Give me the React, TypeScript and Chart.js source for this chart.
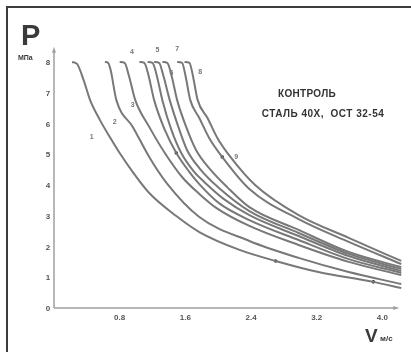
import { useEffect, useRef } from "react";
import { Chart, registerables } from "chart.js";

Chart.register(...registerables);

// axis ticks
const xTickValues = [0.8, 1.6, 2.4, 3.2, 4.0];
const xTickLabels = ["0.8", "1.6", "2.4", "3.2", "4.0"];
const yTickValues = [0, 1, 2, 3, 4, 5, 6, 7, 8];

// curves: velocity V (m/s) and pressure p (MPa)
const c1v = [0.22, 0.28, 0.36, 0.44, 0.56, 0.68, 0.80, 0.96, 1.16, 1.49, 1.77, 2.26, 2.70, 3.22, 3.89, 4.23];
const c1p = [8.0, 7.94, 7.42, 6.76, 6.11, 5.56, 5.04, 4.42, 3.74, 2.99, 2.47, 1.89, 1.53, 1.17, 0.85, 0.65];
const c2v = [0.62, 0.66, 0.69, 0.76, 0.96, 1.16, 1.37, 1.77, 2.38, 2.98, 3.59, 4.23];
const c2p = [8.0, 7.97, 7.74, 6.76, 5.89, 4.91, 4.07, 2.96, 2.18, 1.63, 1.17, 0.78];
const c3v = [0.80, 0.86, 0.91, 0.99, 1.16, 1.35, 1.56, 1.77, 1.98, 2.38, 2.98, 3.59, 4.23];
const c3p = [8.0, 7.97, 7.58, 6.76, 5.89, 5.04, 4.26, 3.71, 3.25, 2.67, 2.05, 1.50, 1.07];
const c4v = [1.04, 1.10, 1.15, 1.22, 1.35, 1.49, 1.65, 1.77, 2.01, 2.38, 2.98, 3.59, 4.23];
const c4p = [8.0, 7.97, 7.58, 6.76, 5.79, 5.04, 4.42, 4.03, 3.41, 2.86, 2.21, 1.59, 1.14];
const c5v = [1.14, 1.20, 1.25, 1.32, 1.43, 1.55, 1.71, 1.83, 2.07, 2.38, 2.98, 3.59, 4.23];
const c5p = [8.0, 7.97, 7.58, 6.76, 5.79, 5.04, 4.42, 4.10, 3.54, 3.02, 2.34, 1.69, 1.20];
const c6v = [1.22, 1.28, 1.33, 1.41, 1.52, 1.62, 1.77, 2.01, 2.38, 2.98, 3.59, 4.23];
const c6p = [8.0, 7.97, 7.58, 6.76, 5.85, 5.14, 4.55, 3.90, 3.15, 2.44, 1.76, 1.27];
const c7v = [1.32, 1.38, 1.43, 1.50, 1.61, 1.73, 1.89, 2.11, 2.38, 2.98, 3.59, 4.23];
const c7p = [8.0, 7.97, 7.58, 6.76, 5.89, 5.14, 4.55, 3.93, 3.28, 2.54, 1.82, 1.33];
const c8v = [1.50, 1.56, 1.60, 1.66, 1.77, 1.89, 2.05, 2.38, 2.98, 3.59, 4.23];
const c8p = [8.0, 7.97, 7.58, 6.76, 6.18, 5.53, 4.91, 3.87, 2.89, 2.15, 1.43];
const c9v = [1.59, 1.65, 1.69, 1.75, 1.87, 1.99, 2.13, 2.45, 2.98, 3.59, 4.23];
const c9p = [8.0, 7.97, 7.58, 6.76, 6.18, 5.53, 4.98, 4.0, 3.02, 2.28, 1.53];

const curveV = [c1v, c2v, c3v, c4v, c5v, c6v, c7v, c8v, c9v];
const curveP = [c1p, c2p, c3p, c4p, c5p, c6p, c7p, c8p, c9p];
const curveNames = ["1", "2", "3", "4", "5", "6", "7", "8", "9"];

// curve number labels (anchored in data units)
const labelV = [0.46, 0.74, 0.96, 0.95, 1.26, 1.43, 1.50, 1.78, 2.22];
const labelP = [5.56, 6.05, 6.60, 8.33, 8.39, 7.64, 8.42, 7.67, 4.91];

// measured points marked on curves
const markV = [1.49, 2.05, 2.70, 3.89];
const markP = [5.04, 4.91, 1.53, 0.85];

const titleLine1 = "КОНТРОЛЬ";
const titleLine2 = "СТАЛЬ 40Х,  ОСТ 32-54";
const yAxisTitle = "Р";
const yAxisUnit = "МПа";
const xAxisTitle = "V";
const xAxisUnit = "м/с";

const decorPlugin = {
  id: "decor",
  afterDraw(chart: any) {
    const ctx = chart.ctx as CanvasRenderingContext2D;
    const xs = chart.scales.x;
    const ys = chart.scales.y;
    const x0 = xs.getPixelForValue(0);
    const y0 = ys.getPixelForValue(0);
    ctx.save();

    // frame of the scanned figure
    ctx.strokeStyle = "#3c3c3c";
    ctx.lineWidth = 2;
    ctx.beginPath();
    ctx.moveTo(7, 352);
    ctx.lineTo(7, 7);
    ctx.lineTo(411, 7);
    ctx.stroke();

    // axes
    ctx.strokeStyle = "#a0a0a0";
    ctx.lineWidth = 1.5;
    const yTop = ys.getPixelForValue(8.4);
    const xEnd = xs.getPixelForValue(4.17);
    ctx.beginPath();
    ctx.moveTo(x0, y0);
    ctx.lineTo(x0, yTop);
    ctx.moveTo(x0, y0);
    ctx.lineTo(xEnd, y0);
    ctx.stroke();
    ctx.fillStyle = "#a0a0a0";
    ctx.beginPath();
    ctx.moveTo(x0, yTop - 3);
    ctx.lineTo(x0 - 2, yTop + 3);
    ctx.lineTo(x0 + 2, yTop + 3);
    ctx.fill();
    ctx.beginPath();
    ctx.moveTo(xEnd + 3, y0);
    ctx.lineTo(xEnd - 3, y0 - 2);
    ctx.lineTo(xEnd - 3, y0 + 2);
    ctx.fill();

    // y tick labels
    ctx.fillStyle = "#555";
    ctx.font = "bold 8px 'Liberation Sans'";
    ctx.textAlign = "center";
    ctx.textBaseline = "middle";
    yTickValues.forEach((v) => {
      ctx.fillText(String(v), x0 - 6, ys.getPixelForValue(v) + 1);
    });
    // x tick labels
    xTickValues.forEach((v, i) => {
      ctx.fillText(xTickLabels[i], xs.getPixelForValue(v), y0 + 10);
    });

    // axis titles
    ctx.fillStyle = "#3a3a3a";
    ctx.textAlign = "left";
    ctx.textBaseline = "alphabetic";
    ctx.font = "bold 29px 'Liberation Sans'";
    ctx.fillText(yAxisTitle, 21, 45);
    ctx.font = "bold 7px 'Liberation Sans'";
    ctx.fillText(yAxisUnit, 18, 60);
    ctx.font = "bold 19px 'Liberation Sans'";
    ctx.fillText(xAxisTitle, 365, 342);
    ctx.font = "bold 8px 'Liberation Sans'";
    ctx.fillText(xAxisUnit, 380, 341);

    // title block
    ctx.fillStyle = "#333";
    ctx.textAlign = "center";
    ctx.font = "bold 10px 'Liberation Sans'";
    (ctx as any).letterSpacing = "0.3px";
    ctx.fillText(titleLine1, 307, 97);
    (ctx as any).letterSpacing = "0.5px";
    ctx.fillText(titleLine2, 323, 117);
    (ctx as any).letterSpacing = "0px";

    // curve numbers
    ctx.fillStyle = "#777";
    ctx.font = "bold 7px 'Liberation Sans'";
    ctx.textBaseline = "middle";
    curveNames.forEach((n, i) => {
      ctx.fillText(n, xs.getPixelForValue(labelV[i]), ys.getPixelForValue(labelP[i]));
    });
    ctx.restore();
  },
};

export default function App() {
  const ref = useRef<HTMLCanvasElement | null>(null);
  useEffect(() => {
    if (!ref.current) return;
    const datasets: any[] = curveV.map((vs, i) => ({
      type: "line",
      label: curveNames[i],
      data: vs.map((v, j) => ({ x: v, y: curveP[i][j] })),
      borderColor: "#787878",
      borderWidth: 2,
      pointRadius: 0,
      cubicInterpolationMode: "monotone",
      fill: false,
      clip: false,
    }));
    datasets.push({
      type: "scatter",
      label: "marks",
      data: markV.map((v, j) => ({ x: v, y: markP[j] })),
      backgroundColor: "#333",
      borderWidth: 0,
      pointRadius: 1.8,
      clip: false,
    });
    const chart = new Chart(ref.current, {
      type: "line",
      data: { datasets },
      options: {
        animation: false,
        responsive: false,
        devicePixelRatio: 1,
        layout: { padding: { left: 54, top: 62, right: 2.25, bottom: 44 } },
        plugins: { legend: { display: false }, tooltip: { enabled: false } },
        scales: {
          x: { type: "linear", min: 0, max: 4.3, display: false },
          y: { type: "linear", min: 0, max: 8, display: false },
        },
      },
      plugins: [decorPlugin],
    } as any);
    return () => chart.destroy();
  }, []);
  return (
    <div style={{ position: "absolute", left: 0, top: 0, width: 411, height: 352, background: "#fff" }}>
      <canvas ref={ref} width={411} height={352} style={{ display: "block" }} />
    </div>
  );
}
